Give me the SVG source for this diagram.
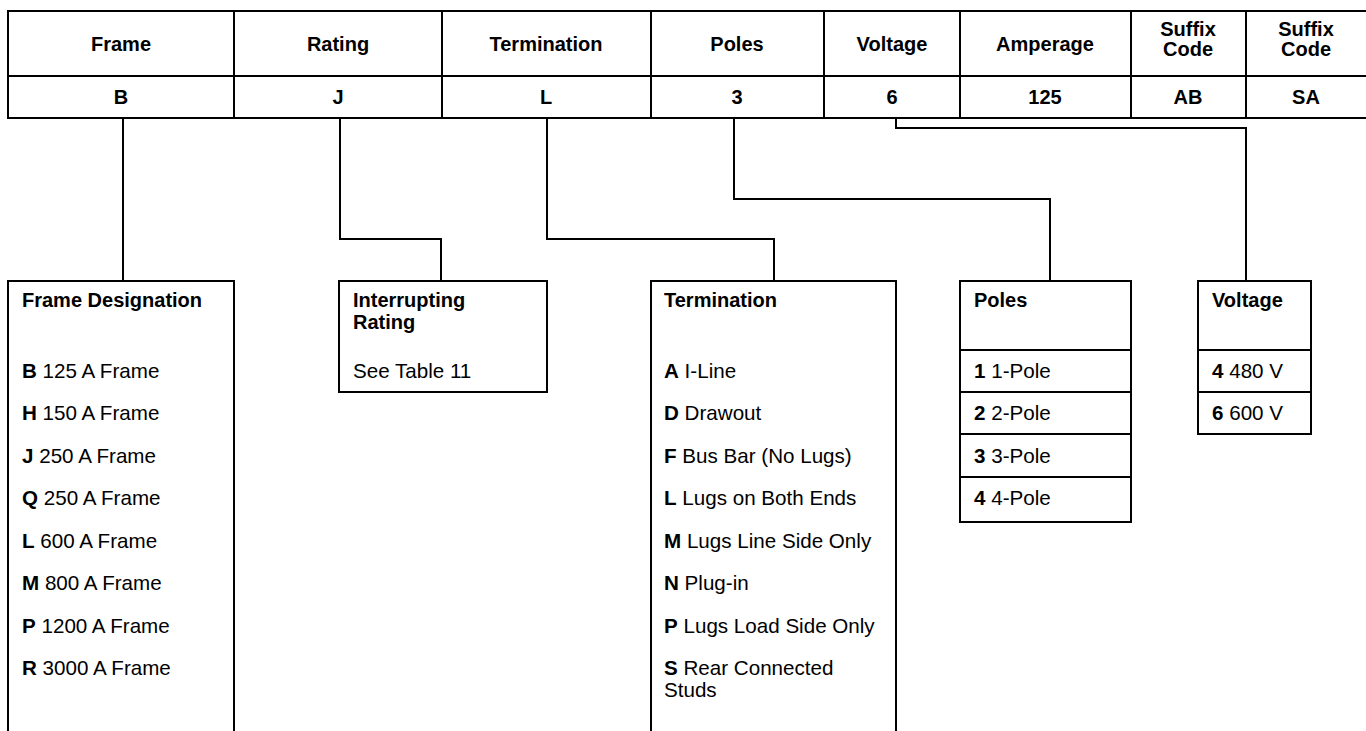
<svg xmlns="http://www.w3.org/2000/svg" width="1366" height="731" viewBox="0 0 1366 731">
<style>
text{font-family:"Liberation Sans",Arial,sans-serif;font-size:20px;fill:#000}
.h{font-weight:bold;text-anchor:middle}
.t{font-weight:bold}
.r{font-size:20.6px}
.b{font-weight:bold}
.ln{fill:none;stroke:#000;stroke-width:2}
</style>
<rect width="1366" height="731" fill="#fff"/>
<g id="table">
<rect class="ln" x="8" y="11" width="1360" height="107"/>
<path class="ln" d="M8 76H1368M234 11V118M442 11V118M651 11V118M824 11V118M960 11V118M1131 11V118M1246 11V118"/>
<text class="h" x="121" y="51">Frame</text>
<text class="h" x="338" y="51">Rating</text>
<text class="h" x="546" y="51">Termination</text>
<text class="h" x="737" y="51">Poles</text>
<text class="h" x="892" y="51">Voltage</text>
<text class="h" x="1045" y="51">Amperage</text>
<text class="h" x="1188" y="36">Suffix</text>
<text class="h" x="1188" y="56">Code</text>
<text class="h" x="1306" y="36">Suffix</text>
<text class="h" x="1306" y="56">Code</text>
<text class="h" x="121" y="104">B</text>
<text class="h" x="338" y="104">J</text>
<text class="h" x="546" y="104">L</text>
<text class="h" x="737" y="104">3</text>
<text class="h" x="892" y="104">6</text>
<text class="h" x="1045" y="104">125</text>
<text class="h" x="1188" y="104">AB</text>
<text class="h" x="1306" y="104">SA</text>
</g>
<g id="connectors">
<path class="ln" d="M123 118V281"/>
<path class="ln" d="M340 118V239H441V281"/>
<path class="ln" d="M547 118V239H774V281"/>
<path class="ln" d="M734 118V199H1050V281"/>
<path class="ln" d="M896 118V128H1246V281"/>
</g>
<g id="frame-designation">
<path class="ln" d="M8 740V281H234V740"/>
<text class="t" x="22" y="307">Frame Designation</text>
<text class="r" x="22" y="378"><tspan class="b">B</tspan> 125 A Frame</text>
<text class="r" x="22" y="420"><tspan class="b">H</tspan> 150 A Frame</text>
<text class="r" x="22" y="462.5"><tspan class="b">J</tspan> 250 A Frame</text>
<text class="r" x="22" y="505"><tspan class="b">Q</tspan> 250 A Frame</text>
<text class="r" x="22" y="547.5"><tspan class="b">L</tspan> 600 A Frame</text>
<text class="r" x="22" y="590"><tspan class="b">M</tspan> 800 A Frame</text>
<text class="r" x="22" y="632.5"><tspan class="b">P</tspan> 1200 A Frame</text>
<text class="r" x="22" y="675"><tspan class="b">R</tspan> 3000 A Frame</text>
</g>
<g id="interrupting-rating">
<rect class="ln" x="339" y="281" width="208" height="111"/>
<text class="t" x="353" y="307">Interrupting</text>
<text class="t" x="353" y="329">Rating</text>
<text class="r" x="353" y="378">See Table 11</text>
</g>
<g id="termination">
<path class="ln" d="M651 740V281H896V740"/>
<text class="t" x="664" y="307">Termination</text>
<text class="r" x="664" y="378"><tspan class="b">A</tspan> I-Line</text>
<text class="r" x="664" y="420"><tspan class="b">D</tspan> Drawout</text>
<text class="r" x="664" y="462.5"><tspan class="b">F</tspan> Bus Bar (No Lugs)</text>
<text class="r" x="664" y="505"><tspan class="b">L</tspan> Lugs on Both Ends</text>
<text class="r" x="664" y="547.5"><tspan class="b">M</tspan> Lugs Line Side Only</text>
<text class="r" x="664" y="590"><tspan class="b">N</tspan> Plug-in</text>
<text class="r" x="664" y="632.5"><tspan class="b">P</tspan> Lugs Load Side Only</text>
<text class="r" x="664" y="675"><tspan class="b">S</tspan> Rear Connected</text>
<text class="r" x="664" y="697">Studs</text>
</g>
<g id="poles">
<rect class="ln" x="960" y="281" width="171" height="241"/>
<path class="ln" d="M960 350H1131M960 392H1131M960 434H1131M960 477H1131"/>
<text class="t" x="974" y="307">Poles</text>
<text class="r" x="974" y="378"><tspan class="b">1</tspan> 1-Pole</text>
<text class="r" x="974" y="420"><tspan class="b">2</tspan> 2-Pole</text>
<text class="r" x="974" y="462.5"><tspan class="b">3</tspan> 3-Pole</text>
<text class="r" x="974" y="505"><tspan class="b">4</tspan> 4-Pole</text>
</g>
<g id="voltage">
<rect class="ln" x="1198" y="281" width="113" height="153"/>
<path class="ln" d="M1198 350H1311M1198 392H1311"/>
<text class="t" x="1212" y="307">Voltage</text>
<text class="r" x="1212" y="378"><tspan class="b">4</tspan> 480 V</text>
<text class="r" x="1212" y="420"><tspan class="b">6</tspan> 600 V</text>
</g>
</svg>
